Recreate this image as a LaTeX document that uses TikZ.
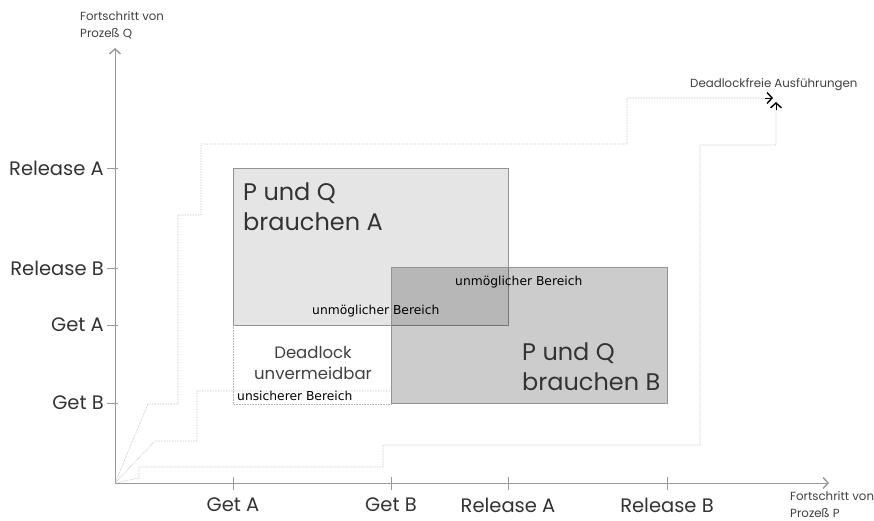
\documentclass[tikz,border=0pt]{standalone}
\usepackage{fontspec}
\setmainfont{Poppins}
\newfontfamily\djv{DejaVu Sans}
\usetikzlibrary{arrows.meta}
\begin{document}
\begin{tikzpicture}[x=1pt,y=-1pt,
  axis/.style={draw=gray!80, line width=0.6pt},
  tick/.style={draw=gray!80, line width=0.6pt},
  tip/.style={-{Straight Barb[length=5pt,width=11pt,line width=1.4pt]}},
  pathline/.style={draw=gray!60, line width=0.6pt, densely dotted},
  ticklab/.style={font=\fontsize{19.5}{22}\selectfont, text=black!80, inner sep=0pt},
  small/.style={font=\djv\fontsize{12.3}{14}\selectfont, inner sep=0pt, anchor=west},
  axlab/.style={font=\fontsize{11.8}{17}\selectfont, align=left, inner sep=0pt, anchor=west, text=black!75},
  big/.style={font=\fontsize{24}{30}\selectfont, align=left, inner sep=0pt, anchor=west, text=black!80},
  mid/.style={font=\fontsize{16.5}{20.5}\selectfont, align=center, inner sep=0pt, text=black!75}
]
\useasboundingbox (0,0) rectangle (874,521);
% regions
\filldraw[draw=gray!85, line width=0.8pt, fill=black, fill opacity=0.1] (233,168) rectangle (508,325);
\filldraw[draw=gray!85, line width=0.8pt, fill=black, fill opacity=0.2] (391,267) rectangle (667,403);
% unsafe region
\draw[draw=gray!60, line width=0.6pt, densely dotted] (233,325) -- (233,404) -- (391,404);
% axes
\coordinate (O) at (115,483);
\coordinate (ytop) at (115,48);
\coordinate (xend) at (829,483);
\draw[axis, tip] (O) -- (ytop);
\draw[axis, tip] (O) -- (xend);
% y ticks
\foreach \y/\t/\n in {168/Release A/ra,268/Release B/rb,325/Get A/ga,403/Get B/gb}{
  \draw[tick] (107,\y) -- (118,\y);
  \node[ticklab, anchor=east] (y\n) at (104,\y) {\t};
}
% x ticks
\foreach \x/\t/\n in {233/Get A/ga,391/Get B/gb,508/Release A/ra,667/Release B/rb}{
  \draw[tick] (\x,477) -- (\x,490);
  \node[ticklab] (x\n) at (\x,505) {\t};
}
% axis labels
\node[axlab] (qlab) at (80,25.5) {Fortschritt von\\Prozeß Q};
\node[axlab] (plab) at (790,505) {Fortschritt von\\Prozeß P};
\node[axlab] (dfree) at (690,85) {Deadlockfreie Ausführungen};
% execution paths
\coordinate (e1) at (773,98);
\coordinate (e2) at (776,102);
\draw[pathline] (O) -- (148,404) -- (178,404) -- (178,215) -- (201,215) -- (201,144) -- (627,144) -- (627,98) -- (768,98);
\draw[tip, black, line width=0.6pt] (765,98) -- (e1);
\draw[pathline] (O) -- (155,441) -- (197,441) -- (197,391) -- (391,391);
\draw[pathline] (O) -- (139,478) -- (139,467) -- (383,467) -- (383,445) -- (700,445) -- (700,145) -- (776,145) -- (776,108);
\draw[tip, black, line width=0.6pt] (776,110) -- (e2);
% texts
\node[big] (pqa) at (243,207) {P und Q\\brauchen A};
\node[big] (pqb) at (522,367) {P und Q\\brauchen B};
\node[mid] (dl) at (313,363) {Deadlock\\unvermeidbar};
\node[small] (um1) at (455,282) {unmöglicher Bereich};
\node[small] (um2) at (312,311) {unmöglicher Bereich};
\node[small] (us) at (237,396) {unsicherer Bereich};
\end{tikzpicture}
\end{document}
